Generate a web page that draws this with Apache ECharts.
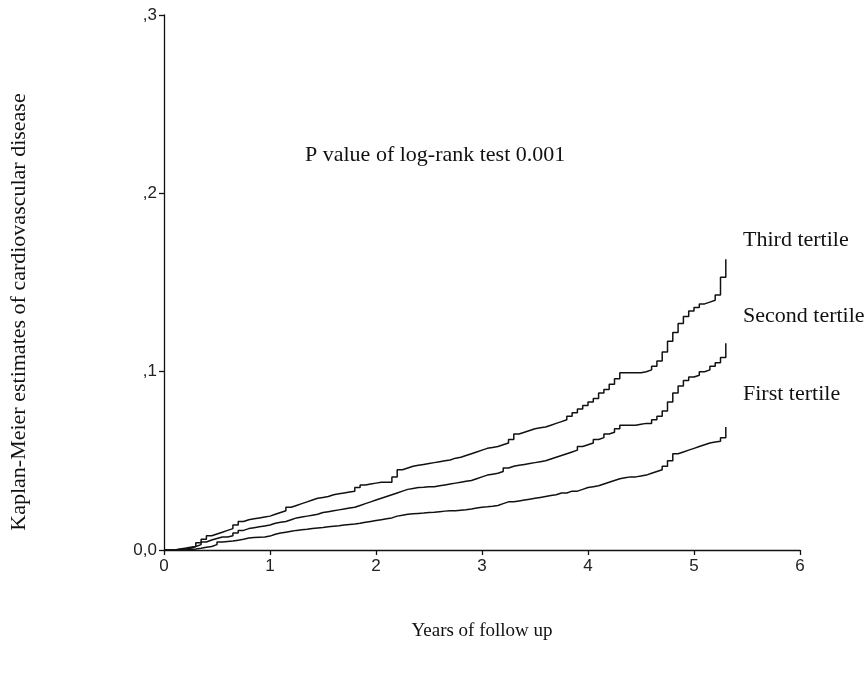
<!DOCTYPE html>
<html>
<head>
<meta charset="utf-8">
<script src="https://cdn.jsdelivr.net/npm/echarts@6/dist/echarts.min.js"></script>
<style>
html, body { margin: 0; padding: 0; background: #fff; }
#chart { width: 866px; height: 673px; }
</style>
</head>
<body>
<div id="chart"></div>
<script>
// follow-up times (years), one row per half year
var times = [
    0, 0.05, 0.1, 0.15, 0.2, 0.25, 0.3, 0.35, 0.4, 0.45,
    0.5, 0.55, 0.6, 0.65, 0.7, 0.75, 0.8, 0.85, 0.9, 0.95,
    1.0, 1.05, 1.1, 1.15, 1.2, 1.25, 1.3, 1.35, 1.4, 1.45,
    1.5, 1.55, 1.6, 1.65, 1.7, 1.75, 1.8, 1.85, 1.9, 1.95,
    2.0, 2.05, 2.1, 2.15, 2.2, 2.25, 2.3, 2.35, 2.4, 2.45,
    2.5, 2.55, 2.6, 2.65, 2.7, 2.75, 2.8, 2.85, 2.9, 2.95,
    3.0, 3.05, 3.1, 3.15, 3.2, 3.25, 3.3, 3.35, 3.4, 3.45,
    3.5, 3.55, 3.6, 3.65, 3.7, 3.75, 3.8, 3.85, 3.9, 3.95,
    4.0, 4.05, 4.1, 4.15, 4.2, 4.25, 4.3, 4.35, 4.4, 4.45,
    4.5, 4.55, 4.6, 4.65, 4.7, 4.75, 4.8, 4.85, 4.9, 4.95,
    5.0, 5.05, 5.1, 5.15, 5.2, 5.25, 5.3];

var thirdTertile = [
    0, 0, 0.0005, 0.001, 0.0015, 0.002, 0.004, 0.006, 0.008, 0.009,
    0.010, 0.011, 0.012, 0.014, 0.016, 0.017, 0.0175, 0.018, 0.0185, 0.019,
    0.020, 0.021, 0.022, 0.024, 0.025, 0.026, 0.027, 0.028, 0.029, 0.0295,
    0.030, 0.031, 0.0315, 0.032, 0.0325, 0.033, 0.035, 0.0365, 0.037, 0.0375,
    0.038, 0.038, 0.038, 0.041, 0.045, 0.046, 0.047, 0.0475, 0.048, 0.0485,
    0.049, 0.0495, 0.050, 0.0505, 0.0515, 0.052, 0.053, 0.054, 0.055, 0.056,
    0.057, 0.0575, 0.058, 0.059, 0.060, 0.062, 0.065, 0.066, 0.067, 0.068,
    0.0685, 0.069, 0.070, 0.071, 0.072, 0.073, 0.075, 0.077, 0.079, 0.081,
    0.083, 0.085, 0.088, 0.090, 0.093, 0.096, 0.0994, 0.0994, 0.0994, 0.0994,
    0.100, 0.101, 0.103, 0.106, 0.111, 0.117, 0.122, 0.127, 0.131, 0.134,
    0.136, 0.138, 0.139, 0.140, 0.143, 0.153, 0.163];

var secondTertile = [
    0, 0, 0.0003, 0.0006, 0.001, 0.002, 0.003, 0.0045, 0.0056, 0.0065,
    0.0073, 0.0073, 0.008, 0.0095, 0.011, 0.012, 0.0125, 0.013, 0.0135, 0.014,
    0.015, 0.0155, 0.016, 0.017, 0.018, 0.0185, 0.019, 0.0195, 0.020, 0.021,
    0.0215, 0.022, 0.0225, 0.023, 0.0235, 0.024, 0.025, 0.026, 0.027, 0.028,
    0.029, 0.030, 0.031, 0.032, 0.033, 0.034, 0.0345, 0.035, 0.0352, 0.0355,
    0.0355, 0.036, 0.0365, 0.037, 0.0375, 0.038, 0.0385, 0.039, 0.040, 0.041,
    0.042, 0.0425, 0.043, 0.044, 0.046, 0.047, 0.0475, 0.048, 0.0485, 0.049,
    0.0495, 0.050, 0.051, 0.052, 0.053, 0.054, 0.055, 0.056, 0.058, 0.059,
    0.060, 0.062, 0.063, 0.065, 0.066, 0.068, 0.070, 0.070, 0.070, 0.0705,
    0.071, 0.071, 0.073, 0.075, 0.078, 0.083, 0.088, 0.092, 0.095, 0.097,
    0.098, 0.100, 0.101, 0.103, 0.105, 0.108, 0.116];

var firstTertile = [
    0, 0, 0, 0, 0.0003, 0.0006, 0.001, 0.0015, 0.002, 0.003,
    0.0045, 0.0048, 0.005, 0.0055, 0.006, 0.0067, 0.007, 0.0072, 0.0073, 0.0078,
    0.0088, 0.0095, 0.010, 0.0105, 0.011, 0.0113, 0.0116, 0.012, 0.0123, 0.0126,
    0.013, 0.0133, 0.0136, 0.014, 0.0143, 0.0146, 0.015, 0.0155, 0.016, 0.0165,
    0.017, 0.0175, 0.018, 0.019, 0.0195, 0.020, 0.0203, 0.0205, 0.0207, 0.021,
    0.0212, 0.0215, 0.0218, 0.022, 0.022, 0.0223, 0.0226, 0.023, 0.0235, 0.024,
    0.0242, 0.0245, 0.025, 0.026, 0.027, 0.027, 0.0275, 0.028, 0.0285, 0.029,
    0.0295, 0.030, 0.0305, 0.031, 0.032, 0.032, 0.033, 0.033, 0.034, 0.035,
    0.0355, 0.036, 0.037, 0.038, 0.039, 0.040, 0.0405, 0.041, 0.041, 0.0415,
    0.042, 0.043, 0.044, 0.045, 0.047, 0.050, 0.054, 0.055, 0.056, 0.057,
    0.058, 0.059, 0.060, 0.0605, 0.061, 0.063, 0.069];

var yTickLabels = {'0': '0,0', '0.1': ',1', '0.2': ',2', '0.3': ',3'};

function pairs(vals) {
    return times.map(function (t, i) { return [t, vals[i]]; });
}

var chart = echarts.init(document.getElementById('chart'));
var serif = '"Liberation Serif", "DejaVu Serif", serif';
var sans = '"Liberation Sans", Arial, sans-serif';

function kmSeries(name, vals) {
    return {
        type: 'line', name: name, step: 'end', symbol: 'none',
        lineStyle: {color: '#111', width: 1.5},
        data: pairs(vals)
    };
}

var option = {
    animation: false,
    backgroundColor: '#fff',
    grid: {left: 164, right: 66, top: 15, bottom: 123},
    xAxis: {
        type: 'value', min: 0, max: 6, interval: 1,
        name: 'Years of follow up', nameLocation: 'middle', nameGap: 72,
        nameTextStyle: {fontFamily: serif, fontSize: 19, color: '#111'},
        axisLine: {show: true, onZero: false, lineStyle: {color: '#111', width: 1.3}},
        axisTick: {show: true, length: 5, lineStyle: {color: '#111', width: 1.3}},
        axisLabel: {fontFamily: sans, fontSize: 17, color: '#222', margin: 8},
        splitLine: {show: false}
    },
    yAxis: {
        type: 'value', min: 0, max: 0.3, interval: 0.1,
        axisLine: {show: true, lineStyle: {color: '#111', width: 1.3}},
        axisTick: {show: true, length: 5, lineStyle: {color: '#111', width: 1.3}},
        axisLabel: {
            fontFamily: sans, fontSize: 17, color: '#222', margin: 7,
            formatter: function (v) { return yTickLabels[String(Math.round(v * 10) / 10)]; }
        },
        splitLine: {show: false}
    },
    graphic: [
        {type: 'text', x: 19, y: 312, rotation: Math.PI / 2,
            style: {text: 'Kaplan-Meier estimates of cardiovascular disease', font: '22px ' + serif,
                fill: '#111', align: 'center', verticalAlign: 'middle'}},
        {type: 'text', left: 305, top: 144, style: {text: 'P value of log-rank test 0.001', font: '22px ' + serif, fill: '#111'}},
        {type: 'text', left: 743, top: 229, style: {text: 'Third tertile', font: '22px ' + serif, fill: '#111'}},
        {type: 'text', left: 743, top: 305, style: {text: 'Second tertile', font: '22px ' + serif, fill: '#111'}},
        {type: 'text', left: 743, top: 383, style: {text: 'First tertile', font: '22px ' + serif, fill: '#111'}}
    ],
    series: [
        kmSeries('Third tertile', thirdTertile),
        kmSeries('Second tertile', secondTertile),
        kmSeries('First tertile', firstTertile)
    ]
};
chart.setOption(option);
</script>
</body>
</html>
